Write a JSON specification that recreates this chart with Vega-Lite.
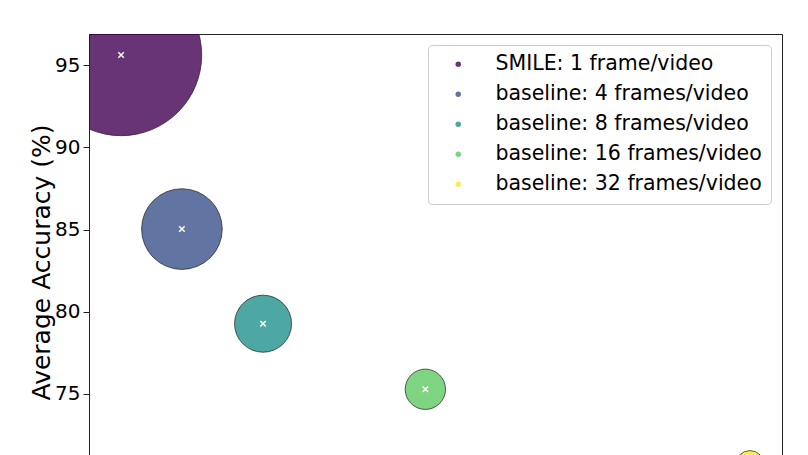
{
  "$schema": "https://vega.github.io/schema/vega-lite/v6.json",
  "width": 693,
  "height": 456,
  "padding": {"left": 89, "top": 34, "right": 26, "bottom": 0},
  "autosize": {"type": "none"},
  "background": "white",
  "config": {
    "font": "DejaVu Sans",
    "view": {"stroke": "#222", "strokeWidth": 1}
  },
  "data": {
    "values": [
      {"method": "SMILE: 1 frame/video", "frames": 1, "accuracy": 95.62, "bubble_value": 32},
      {"method": "baseline: 4 frames/video", "frames": 4, "accuracy": 85.03, "bubble_value": 8},
      {"method": "baseline: 8 frames/video", "frames": 8, "accuracy": 79.27, "bubble_value": 4},
      {"method": "baseline: 16 frames/video", "frames": 16, "accuracy": 75.28, "bubble_value": 2},
      {"method": "baseline: 32 frames/video", "frames": 32, "accuracy": 70.68, "bubble_value": 1}
    ]
  },
  "encoding": {
    "x": {
      "field": "frames", "type": "quantitative",
      "scale": {"domain": [-0.58, 33.58], "nice": false, "zero": false},
      "axis": null
    },
    "y": {
      "field": "accuracy", "type": "quantitative",
      "scale": {"domain": [69.15, 96.9], "nice": false, "zero": false},
      "axis": {
        "title": "Average Accuracy (%)",
        "values": [75, 80, 85, 90, 95],
        "grid": false,
        "labelFontSize": 20,
        "labelColor": "black",
        "labelPadding": 3,
        "tickSize": 6,
        "tickColor": "#222",
        "domainColor": "#222",
        "titleFontSize": 25,
        "titleFontWeight": "normal",
        "titleColor": "black",
        "titlePadding": 0
      }
    }
  },
  "layer": [
    {
      "mark": {"type": "circle", "opacity": 1, "fillOpacity": 0.8, "stroke": "#222", "strokeWidth": 0.8, "strokeOpacity": 0.9, "clip": true},
      "encoding": {
        "size": {
          "field": "bubble_value", "type": "quantitative",
          "scale": {"domain": [0, 32], "range": [0, 26016], "zero": true},
          "legend": null
        },
        "color": {
          "field": "method", "type": "nominal",
          "sort": ["SMILE: 1 frame/video", "baseline: 4 frames/video", "baseline: 8 frames/video", "baseline: 16 frames/video", "baseline: 32 frames/video"],
          "scale": {"range": ["#440154", "#3b528b", "#21918c", "#5ec962", "#fde725"]},
          "legend": {
            "title": null,
            "orient": "none",
            "legendX": 339,
            "legendY": 11,
            "padding": 9,
            "fillColor": "white",
            "strokeColor": "#cccccc",
            "cornerRadius": 4,
            "symbolType": "circle",
            "symbolSize": 30,
            "symbolOpacity": 0.8,
            "symbolStrokeWidth": 0,
            "symbolOffset": 11,
            "labelOffset": 27,
            "labelFontSize": 20.5,
            "labelColor": "black",
            "labelLimit": 400,
            "rowPadding": 9
          }
        },
        "order": {"field": "bubble_value", "type": "quantitative", "sort": "descending"}
      }
    },
    {
      "mark": {"type": "point", "shape": "M-1,-1L1,1M-1,1L1,-1", "filled": false, "stroke": "white", "strokeWidth": 1.5, "size": 30, "opacity": 1, "clip": true},
      "encoding": {}
    }
  ]
}
